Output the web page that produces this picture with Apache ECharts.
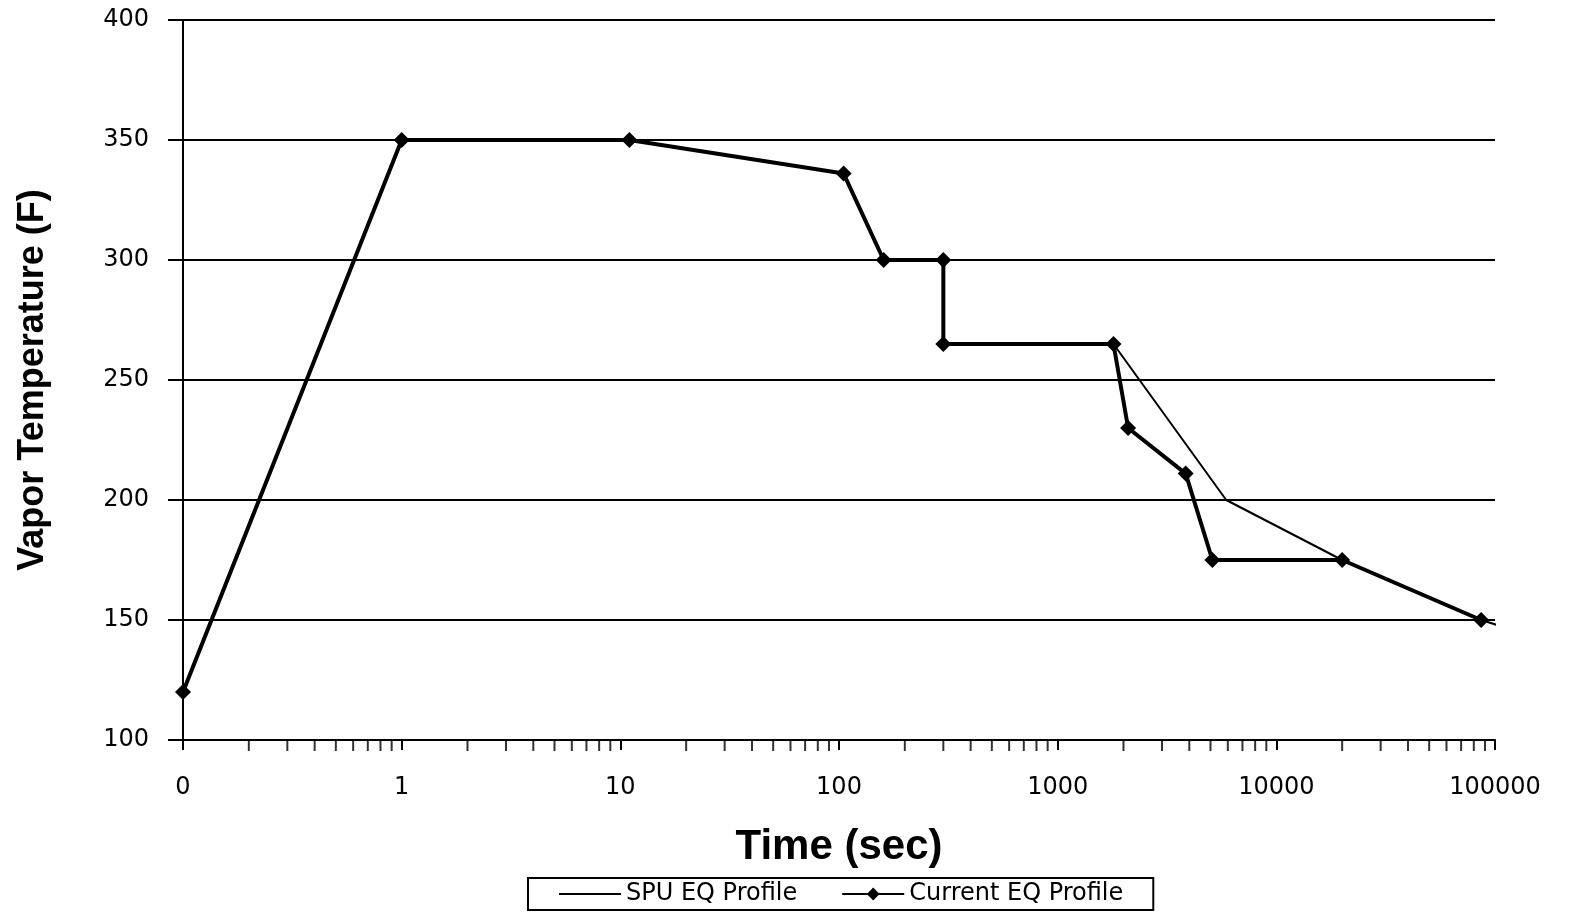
<!DOCTYPE html>
<html>
<head>
<meta charset="utf-8">
<script src="https://cdn.jsdelivr.net/npm/echarts@6/dist/echarts.min.js"></script>
<style>html,body{margin:0;padding:0;background:#fff}#c{width:1569px;height:916px}</style>
</head>
<body>
<div id="c"></div>
<script>
// Data (time in seconds, temperature in F)
const currentTime = [0.1, 1, 11, 105, 160, 300, 300, 1800, 2100, 3850, 5100, 20000, 86400];
const currentTemp = [120, 350, 350, 336, 300, 300, 265, 265, 230, 211, 175, 175, 150];
const spuTime = [0.1, 1, 11, 105, 160, 300, 300, 1800, 5900, 20000, 86400, 110000];
const spuTemp = [120, 350, 350, 336, 300, 300, 265, 265, 200, 175, 150, 147];
const minorTickValues = [0.2,0.3,0.4,0.5,0.6,0.7,0.8,0.9,
  2,3,4,5,6,7,8,9, 20,30,40,50,60,70,80,90, 200,300,400,500,600,700,800,900,
  2000,3000,4000,5000,6000,7000,8000,9000, 20000,30000,40000,50000,60000,70000,80000,90000];
const yTicks = [100, 150, 200, 250, 300, 350, 400];

const chart = echarts.init(document.getElementById('c'), null, {renderer: 'canvas'});
const labelFont = {fontFamily: 'DejaVu Sans', fontSize: 24, color: '#000'};
chart.setOption({
  animation: false,
  backgroundColor: '#fff',
  grid: {left: 183, right: 74, top: 20, bottom: 176, containLabel: false, outerBoundsMode: 'none'},
  xAxis: {
    type: 'log', logBase: 10, min: 0.1, max: 100000,
    name: 'Time (sec)', nameLocation: 'middle', nameGap: 86,
    nameTextStyle: {fontFamily: 'Liberation Sans', fontWeight: 'bold', fontSize: 42, color: '#000'},
    axisLine: {show: true, lineStyle: {color: '#000', width: 2}},
    axisTick: {show: true, inside: false, length: 10, lineStyle: {color: '#000', width: 2}},
    axisLabel: Object.assign({margin: 36, formatter: v => (v < 1 ? '0' : String(Math.round(v)))}, labelFont),
    splitLine: {show: false}
  },
  yAxis: {
    type: 'value', min: yTicks[0], max: yTicks[yTicks.length - 1], interval: 50,
    name: 'Vapor Temperature (F)', nameLocation: 'middle', nameGap: 132, nameRotate: 90,
    nameTextStyle: {fontFamily: 'Liberation Sans', fontWeight: 'bold', fontSize: 36, color: '#000'},
    axisLine: {show: true, lineStyle: {color: '#000', width: 2}},
    axisTick: {show: true, length: 15, lineStyle: {color: '#000', width: 2}},
    axisLabel: Object.assign({margin: 34}, labelFont),
    splitLine: {show: true, lineStyle: {color: '#000', width: 2}}
  },
  legend: {
    left: 528, top: 878,
    padding: [4, 30],
    borderColor: '#000', borderWidth: 2,
    itemWidth: 62, itemHeight: 16, itemGap: 44,
    textStyle: {fontFamily: 'DejaVu Sans', fontSize: 24, color: '#000'},
    data: ['SPU EQ Profile', 'Current EQ Profile']
  },
  series: [
    {
      name: 'SPU EQ Profile', type: 'line',
      data: spuTime.map((t, i) => [t, spuTemp[i]]),
      symbol: 'none', clip: false,
      lineStyle: {color: '#000', width: 2},
      itemStyle: {color: 'rgba(0,0,0,0)'},
      z: 3
    },
    {
      name: 'Current EQ Profile', type: 'line',
      data: currentTime.map((t, i) => [t, currentTemp[i]]),
      symbol: 'diamond', symbolSize: 16, clip: false,
      lineStyle: {color: '#000', width: 4},
      itemStyle: {color: '#000'},
      z: 4
    },
    {
      name: 'minorTicks', type: 'scatter',
      data: minorTickValues.map(v => [v, yTicks[0]]),
      symbol: 'rect', symbolSize: [2, 10], symbolOffset: [0, 6],
      itemStyle: {color: '#000'}, clip: false, silent: true,
      z: 2
    }
  ]
});
</script>
</body>
</html>
